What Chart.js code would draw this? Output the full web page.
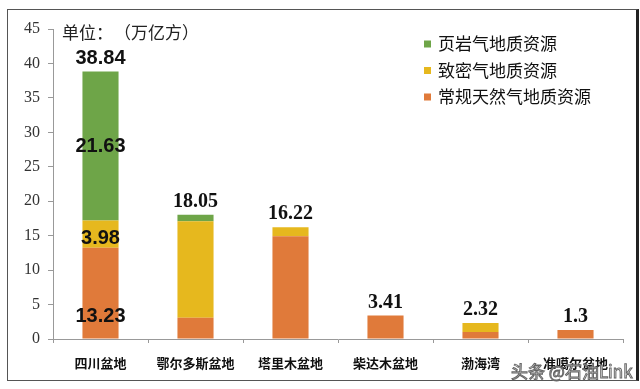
<!DOCTYPE html>
<html>
<head>
<meta charset="utf-8">
<script src="https://cdn.jsdelivr.net/npm/chart.js@4/dist/chart.umd.min.js"></script>
<style>
    html, body { margin: 0; padding: 0; background: #fff; }
    #wrap { position: relative; width: 640px; height: 389px; }
    #frame { position: absolute; left: 7px; top: 9px; width: 628px; height: 370px; border: 1px solid #555; border-right: 3px solid #222; box-sizing: content-box; }
    canvas { position: absolute; left: 0; top: 0; }
</style>
</head>
<body>
<div id="wrap">
    <div id="frame"></div>
    <canvas id="myChart" width="640" height="389"></canvas>
</div>
<script>
// 盆地
const basins = ["四川盆地", "鄂尔多斯盆地", "塔里木盆地", "柴达木盆地", "渤海湾", "准噶尔盆地"];
// 各类资源量 (万亿方)
const conventional = [13.23, 3.1, 14.9, 3.41, 1.0, 1.3];
const tight = [3.98, 14.0, 1.32, 0, 1.32, 0];
const shale = [21.63, 0.95, 0, 0, 0, 0];
const totals = ["38.84", "18.05", "16.22", "3.41", "2.32", "1.3"];
const yTicks = [0, 5, 10, 15, 20, 25, 30, 35, 40, 45];
const unitLabel = "单位：";
const unitText = "（万亿方）";
const watermark = "头条 @石油Link";

const GREEN = "#6ea548";
const YELLOW = "#e6b81e";
const ORANGE = "#e07a3a";

// 图例 + 数值标签
const labelPlugin = {
    id: "labels",
    afterDatasetsDraw(chart) {
        const ctx = chart.ctx;
        const xs = chart.scales.x;
        const ys = chart.scales.y;
        ctx.save();

        // 单位
        ctx.fillStyle = "#222";
        ctx.font = "17px 'Noto Sans CJK SC'";
        ctx.textAlign = "left";
        ctx.textBaseline = "middle";
        ctx.fillText(unitLabel, 62, 33);
        ctx.fillText(unitText, 114, 33);

        // 图例
        const legend = [
            ["页岩气地质资源", GREEN],
            ["致密气地质资源", YELLOW],
            ["常规天然气地质资源", ORANGE]
        ];
        legend.forEach((item, i) => {
            const y = 44 + i * 26.5;
            ctx.fillStyle = item[1];
            ctx.fillRect(424, y - 3.5, 7, 7);
            ctx.fillStyle = "#111";
            ctx.font = "17px 'Noto Sans CJK SC'";
            ctx.fillText(item[0], 438, y);
        });

        // 总量
        ctx.textAlign = "center";
        ctx.textBaseline = "bottom";
        totals.forEach((t, i) => {
            const sum = conventional[i] + tight[i] + shale[i];
            const x = xs.getPixelForValue(i);
            const y = ys.getPixelForValue(sum);
            ctx.fillStyle = "#111";
            ctx.font = i === 0 ? "bold 20px 'Liberation Sans'" : "bold 20px 'Liberation Serif'";
            ctx.fillText(t, x, y - 3);
        });

        // 四川盆地分项
        ctx.textBaseline = "middle";
        ctx.font = "bold 20px 'Liberation Sans'";
        ctx.fillStyle = "#111";
        const x0 = xs.getPixelForValue(0);
        const c = conventional[0], t0 = tight[0], s = shale[0];
        ctx.fillText(shale[0].toFixed(2), x0, ys.getPixelForValue(c + t0 + s / 2) + 1);
        ctx.fillText(tight[0].toFixed(2), x0, ys.getPixelForValue(c + t0 / 2) + 4);
        ctx.fillText(conventional[0].toFixed(2), x0, ys.getPixelForValue(c * 0.25));

        // 水印
        ctx.textAlign = "left";
        ctx.font = "17px 'Noto Sans CJK SC'";
        ctx.lineWidth = 1;
        ctx.strokeStyle = "#666";
        ctx.fillStyle = "rgba(255,255,255,0.85)";
        ctx.fillText(watermark, 511, 372);
        ctx.strokeText(watermark, 511, 372);
        ctx.restore();
    }
};

const myCanvas = document.getElementById("myChart");

const chart1 = new Chart(myCanvas, {
    type: "bar",
    data: {
        labels: basins,
        datasets: [
            { label: "常规天然气地质资源", data: conventional, backgroundColor: ORANGE },
            { label: "致密气地质资源", data: tight, backgroundColor: YELLOW },
            { label: "页岩气地质资源", data: shale, backgroundColor: GREEN }
        ]
    },
    options: {
        responsive: false,
        animation: false,
        datasets: {
            bar: { categoryPercentage: 1, barPercentage: 0.38 }
        },
        layout: {
            padding: { top: 29, right: 17, left: 0, bottom: 0 }
        },
        plugins: {
            legend: { display: false },
            tooltip: { enabled: false }
        },
        scales: {
            x: {
                stacked: true,
                afterFit(scale) { scale.height = 50; },
                grid: {
                    display: true,
                    drawOnChartArea: false,
                    tickLength: 4,
                    color: "#999"
                },
                border: { color: "#999" },
                ticks: {
                    padding: 12,
                    color: "#111",
                    font: { family: "'Noto Sans CJK SC'", size: 13, weight: "bold" }
                }
            },
            y: {
                stacked: true,
                min: 0,
                max: 45,
                afterFit(scale) { scale.width = 53; },
                afterBuildTicks(scale) { scale.ticks = yTicks.map(v => ({ value: v })); },
                grid: {
                    display: true,
                    drawOnChartArea: false,
                    tickLength: 5,
                    color: "#999"
                },
                border: { color: "#999" },
                ticks: {
                    padding: 8,
                    color: "#333",
                    font: { family: "'Liberation Serif'", size: 16 }
                }
            }
        }
    },
    plugins: [labelPlugin]
});
</script>
</body>
</html>
